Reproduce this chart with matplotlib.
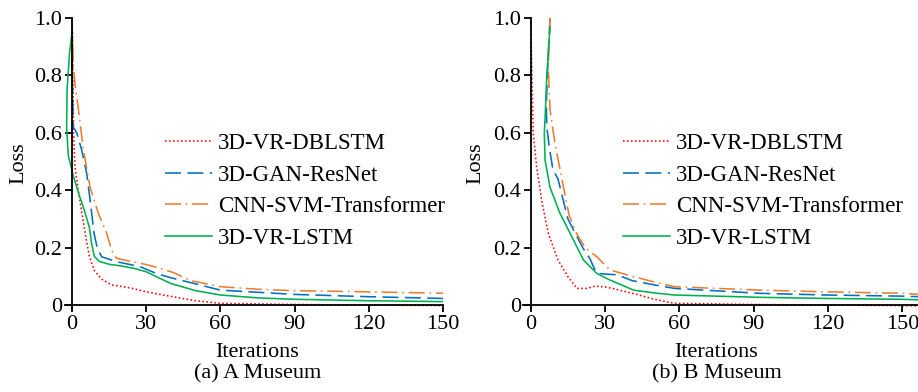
import matplotlib
matplotlib.use("Agg")
import matplotlib.pyplot as plt
import matplotlib.transforms as mtransforms

plt.rcParams["font.family"] = ["Liberation Serif", "DejaVu Serif"]
FS = 16
LEG_FS = 16.5

LABELS = ["3D-VR-DBLSTM", "3D-GAN-ResNet", "CNN-SVM-Transformer", "3D-VR-LSTM"]
COLORS = ["#FF0000", "#0070C0", "#ED7D31", "#00B050"]
STYLES = [(0, (1, 1.5)), (0, (10, 4)), (0, (10, 3, 1, 3)), "-"]

# ---- (a) A Museum ----
a_red_x = [0.2, 0.6, 1.2, 2.5, 4, 5.5, 7, 9, 12, 16, 20, 25, 30, 40, 50, 60, 90, 120, 150]
a_red_y = [0.95, 0.6, 0.48, 0.4, 0.32, 0.24, 0.17, 0.12, 0.09, 0.07, 0.065, 0.057, 0.046,
           0.03, 0.015, 0.006, 0.002, 0.0, -0.002]
a_blue_x = [0, 0, 0.5, 1.9, 3.9, 5.9, 7.3, 8.9, 10.2, 12, 18, 27.5, 34, 40, 48, 60, 90, 120, 150]
a_blue_y = [0.95, 0.83, 0.62, 0.6, 0.54, 0.46, 0.366, 0.25, 0.198, 0.168, 0.151, 0.134, 0.11,
            0.095, 0.078, 0.052, 0.037, 0.029, 0.023]
a_orange_x = [0, 0.5, 1.2, 2.6, 4.6, 7.3, 10.6, 14, 16, 18, 22, 27.5, 35, 41, 48, 60, 75, 90, 120, 150]
a_orange_y = [1.0, 0.83, 0.77, 0.68, 0.54, 0.41, 0.32, 0.25, 0.19, 0.163, 0.155, 0.146, 0.13,
              0.113, 0.085, 0.064, 0.055, 0.05, 0.046, 0.041]
a_green_x = [0, -1, -2, -2.2, -1.5, 0.5, 3, 5, 7, 8, 9, 11, 15, 20, 25, 30, 35, 40, 50, 60,
             75, 90, 120, 150]
a_green_y = [0.95, 0.88, 0.75, 0.62, 0.52, 0.45, 0.38, 0.33, 0.27, 0.21, 0.17, 0.152, 0.142,
             0.136, 0.128, 0.116, 0.095, 0.075, 0.05, 0.035, 0.025, 0.02, 0.015, 0.012]

# ---- (b) B Museum ----
b_red_x = [0, 0.5, 1, 2.4, 4.4, 7.1, 11, 15, 18.7, 22.6, 26, 30, 33.4, 41.5, 50, 58, 90, 120, 150, 157]
b_red_y = [1.0, 0.8, 0.6, 0.48, 0.366, 0.25, 0.157, 0.099, 0.058, 0.058, 0.066, 0.063, 0.057,
           0.04, 0.02, 0.006, 0.002, 0.0, -0.002, -0.003]
b_blue_x = [7.8, 7, 6.3, 6.5, 7.5, 9, 11, 13, 15, 18, 21, 24, 25.5, 27, 35, 41, 50, 58, 92, 119, 150, 157]
b_blue_y = [1.0, 0.85, 0.7, 0.62, 0.55, 0.47, 0.44, 0.37, 0.3, 0.25, 0.2, 0.16, 0.13, 0.11,
            0.105, 0.085, 0.07, 0.058, 0.041, 0.035, 0.031, 0.029]
b_orange_x = [7.8, 7.1, 7.8, 9.8, 13.2, 15.6, 18.5, 22, 26.7, 32, 41.5, 50, 58, 92, 119, 150, 157]
b_orange_y = [1.0, 0.83, 0.68, 0.563, 0.412, 0.31, 0.25, 0.2, 0.168, 0.122, 0.099, 0.08,
              0.064, 0.052, 0.046, 0.041, 0.037]
b_green_x = [7.8, 6.5, 5.8, 5.5, 5.8, 7.8, 11.8, 15.9, 21.3, 26.7, 32, 41.5, 50, 58, 92, 119, 150, 157]
b_green_y = [0.97, 0.8, 0.65, 0.6, 0.505, 0.41, 0.32, 0.25, 0.157, 0.11, 0.087, 0.052, 0.042,
             0.035, 0.027, 0.023, 0.02, 0.018]

X_TICKS = [0, 30, 60, 90, 120, 150]
Y_TICKS = [0, 0.2, 0.4, 0.6, 0.8, 1.0]
Y_TICKLABELS = ["0", "0.2", "0.4", "0.6", "0.8", "1.0"]

panels = [
    ([0.0704, 0.2145, 0.4122, 0.7396], 150, "(a) A Museum", 0.241,
     [(a_red_x, a_red_y), (a_blue_x, a_blue_y), (a_orange_x, a_orange_y), (a_green_x, a_green_y)]),
    ([0.570, 0.2145, 0.431, 0.7396], 156.7, "(b) B Museum", 0.229,
     [(b_red_x, b_red_y), (b_blue_x, b_blue_y), (b_orange_x, b_orange_y), (b_green_x, b_green_y)]),
]

fig = plt.figure(figsize=(9.18, 3.92), dpi=100)

for rect, xmax, caption, leg_x, series in panels:
    ax = fig.add_axes(rect)
    for (x, y), lab, c, ls in zip(series, LABELS, COLORS, STYLES):
        ax.plot(x, y, color=c, linestyle=ls, lw=1.15, label=lab)
    ax.set_xlim(-3, xmax)
    ax.set_ylim(-0.01, 1.0)
    ax.spines["left"].set_position(("data", 0))
    ax.spines["bottom"].set_position(("data", 0))
    ax.spines["right"].set_visible(False)
    ax.spines["top"].set_visible(False)
    for s in ("left", "bottom"):
        ax.spines[s].set_linewidth(1.3)
    ax.set_xticks(X_TICKS)
    ax.set_yticks(Y_TICKS)
    ax.set_yticklabels(Y_TICKLABELS)
    ax.tick_params(direction="out", length=5, width=1.3, labelsize=FS, pad=2)
    ax.set_ylabel("Loss", fontsize=FS)
    ax.yaxis.set_label_coords(-0.095, 0.5)
    # x label and caption centred on the 0-150 data span
    trans = mtransforms.blended_transform_factory(ax.transData, ax.transAxes)
    ax.text(75, -0.168, "Iterations", transform=trans, ha="center", va="baseline", fontsize=FS)
    ax.text(75, -0.242, caption, transform=trans, ha="center", va="baseline", fontsize=FS)
    ax.legend(loc="upper left", bbox_to_anchor=(leg_x, 0.636), frameon=False, fontsize=LEG_FS,
              handlelength=2.05, handletextpad=0.26, labelspacing=0.47, borderaxespad=0)

fig.savefig("out.png", dpi=100)
